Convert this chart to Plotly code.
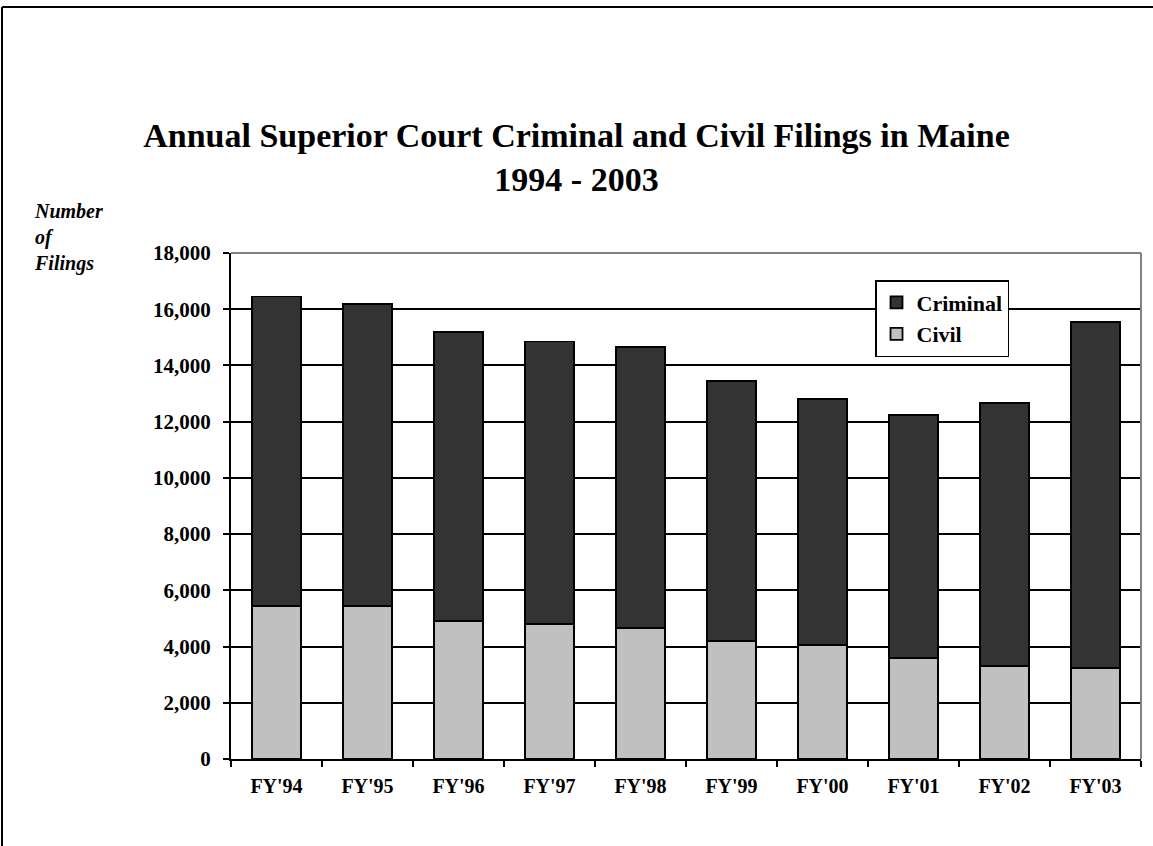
import plotly.graph_objects as go

# Superior Court filings by fiscal year
years = ["FY'94", "FY'95", "FY'96", "FY'97", "FY'98", "FY'99", "FY'00", "FY'01", "FY'02", "FY'03"]
civil = [5450, 5450, 4900, 4800, 4650, 4200, 4050, 3600, 3300, 3250]
criminal = [11000, 10750, 10300, 10050, 10000, 9250, 8750, 8650, 9350, 12300]
y_ticks = list(range(0, 18001, 2000))
y_tick_text = [f"{v:,}" for v in y_ticks]

W, H = 1153, 846
ML, MR, MT, MB = 231, 12, 253, 87
PW, PH = W - ML - MR, H - MT - MB

SERIF = "Liberation Serif, Times New Roman, serif"

fig = go.Figure()
fig.add_trace(go.Bar(
    x=years, y=civil, name="<b>Civil</b>",
    marker=dict(color="#C0C0C0", line=dict(color="black", width=1.8)),
))
fig.add_trace(go.Bar(
    x=years, y=criminal, name="<b>Criminal</b>",
    marker=dict(color="#333333", line=dict(color="black", width=1.8)),
))


def px_x(p):
    return (p - ML) / PW


def px_y(p):
    return (H - MB - p) / PH


shapes = [
    # gray frame along the top and right of the plot area
    dict(type="line", xref="paper", yref="paper", x0=0, x1=1, y0=1, y1=1,
         line=dict(color="#808080", width=2), layer="above"),
    dict(type="line", xref="paper", yref="paper", x0=1, x1=1, y0=0, y1=1,
         line=dict(color="#808080", width=2), layer="above"),
    # page border
    dict(type="line", xref="paper", yref="paper", x0=px_x(2), x1=px_x(W + 5),
         y0=px_y(7), y1=px_y(7), line=dict(color="black", width=2)),
    dict(type="line", xref="paper", yref="paper", x0=px_x(2), x1=px_x(2),
         y0=px_y(7), y1=px_y(H + 5), line=dict(color="black", width=2)),
]

fig.update_layout(
    width=W, height=H,
    margin=dict(l=ML, r=MR, t=MT, b=MB, autoexpand=False),
    paper_bgcolor="white", plot_bgcolor="white",
    barmode="stack", bargap=0.47,
    font=dict(family=SERIF, color="black"),
    title=dict(
        text="<b>Annual Superior Court Criminal and Civil Filings in Maine<br>1994 - 2003</b>",
        x=0.5, xanchor="center", xref="container",
        y=1 - 147 / H, yanchor="middle", yref="container",
        font=dict(family=SERIF, size=34, color="black"),
    ),
    showlegend=True,
    legend=dict(
        x=px_x(875), y=px_y(280), xanchor="left", yanchor="top",
        traceorder="reversed",
        bgcolor="white", bordercolor="black", borderwidth=1.5,
        font=dict(family=SERIF, size=22, color="black"),
        itemwidth=30, tracegroupgap=0,
    ),
    xaxis=dict(
        type="category",
        showline=True, linecolor="black", linewidth=2,
        ticks="outside", tickson="boundaries", ticklen=6, tickwidth=2, tickcolor="black",
        showgrid=False,
        tickfont=dict(family=SERIF, size=20, color="black"),
        ticklabelstandoff=8,
    ),
    yaxis=dict(
        range=[0, 18000],
        tickvals=y_ticks, ticktext=[f"<b>{t}</b>" for t in y_tick_text],
        showline=True, linecolor="black", linewidth=2,
        ticks="outside", ticklen=6, tickwidth=2, tickcolor="black",
        showgrid=True, gridcolor="black", gridwidth=1.8,
        zeroline=False,
        tickfont=dict(family=SERIF, size=21, color="black"),
        ticklabelstandoff=8,
    ),
    shapes=shapes,
    annotations=[
        dict(
            text="<b><i>Number<br>of<br>Filings</i></b>",
            xref="paper", yref="paper", x=px_x(32), y=px_y(198),
            xanchor="left", yanchor="top", align="left", showarrow=False,
            font=dict(family=SERIF, size=20, color="black"),
        )
    ],
)
fig.update_xaxes(ticktext=[f"<b>{y}</b>" for y in years], tickvals=years)

fig.write_html("out.html")
